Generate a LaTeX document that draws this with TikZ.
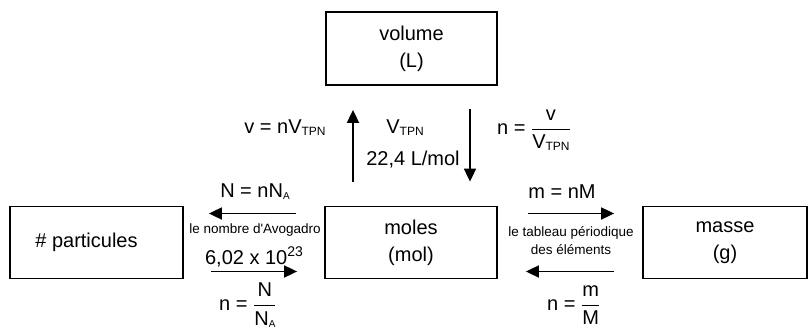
\documentclass[tikz,border=0pt]{standalone}
\usepackage{fontspec}
\usepackage{amsmath}
\setmainfont{Liberation Sans}
\newfontfamily\plainf{Liberation Sans}
\usetikzlibrary{arrows.meta}
\newcommand{\bigf}{\fontsize{20}{27}\selectfont}
\newcommand{\smallf}{\fontsize{13.5}{18}\selectfont}
\newcommand{\lsub}[1]{\raisebox{-2pt}{\fontsize{12}{12}\selectfont #1}}
\newcommand{\asub}[1]{\raisebox{-2pt}{\fontsize{10}{10}\selectfont #1}}
\begin{document}
\begin{tikzpicture}[x=1pt,y=-1pt,
  box/.style={draw,line width=1.8pt,inner sep=0pt,font=\bigf,align=center},
  arr/.style={line width=1.8pt,-{Triangle[length=13pt,width=12pt]}},
  lbl/.style={inner sep=0pt,font=\bigf,align=center},
  slbl/.style={inner sep=0pt,font=\smallf,align=center}]
\useasboundingbox (0,0) rectangle (809,329);
% boxes
\node[box,minimum width=171pt,minimum height=73pt] (vol) at (411.5,48.5) {volume\\(L)};
\node[box,minimum width=173pt,minimum height=72pt] (part) at (96.5,242.5) {\# particules\hspace*{20pt}};
\node[box,minimum width=172pt,minimum height=72pt] (mol) at (411,242.5) {moles\\(mol)};
\node[box,minimum width=164pt,minimum height=72pt] (mas) at (725,242.5) {masse\\(g)};
% vertical arrows
\draw[arr,shorten <=24pt,shorten >=24pt] ([xshift=-58pt]mol.north) -- ([xshift=-58.5pt]vol.south);
\draw[arr,shorten <=23pt,shorten >=24pt] ([xshift=58.5pt]vol.south) -- ([xshift=59pt]mol.north);
% horizontal arrows
\draw[arr,shorten <=28pt,shorten >=25pt] ([yshift=29pt]mol.west) -- ([yshift=29pt]part.east);
\draw[arr,shorten <=27pt,shorten >=27pt] ([yshift=-29pt]part.east) -- ([yshift=-29pt]mol.west);
\draw[arr,shorten <=30pt,shorten >=28pt] ([yshift=29pt]mol.east) -- ([yshift=29pt]mas.west);
\draw[arr,shorten <=28pt,shorten >=28pt] ([yshift=-29pt]mas.west) -- ([yshift=-29pt]mol.east);
% labels
\node[lbl] (t1) at (285,128) {v = nV\lsub{TPN}};
\node[lbl] (t2) at (405,128) {V\lsub{TPN}};
\node[lbl] (t3) at (413,160) {22,4 L/mol};
\node[lbl,anchor=west] (t4) at (497,130) {n = $\dfrac{\text{v}}{\text{V\lsub{TPN}}}$};
\node[lbl] (t5) at (255,192) {N = nN\asub{A}};
\node[slbl] (t6) at (255,230) {le nombre d{\plainf '}Avogadro};
\node[lbl] (t7) at (254,257) {6,02 x 10\raisebox{8pt}{\fontsize{14}{14}\selectfont 23}};
\node[lbl,anchor=west] (t8) at (219,305) {n = $\dfrac{\text{N}}{\text{N\asub{A}}}$};
\node[lbl] (t9) at (562,192) {m = nM};
\node[slbl] (t10) at (571,241) {le tableau périodique\\des éléments};
\node[lbl,anchor=west] (t11) at (547,305) {n = $\dfrac{\text{m}}{\text{M}}$};
\end{tikzpicture}
\end{document}
